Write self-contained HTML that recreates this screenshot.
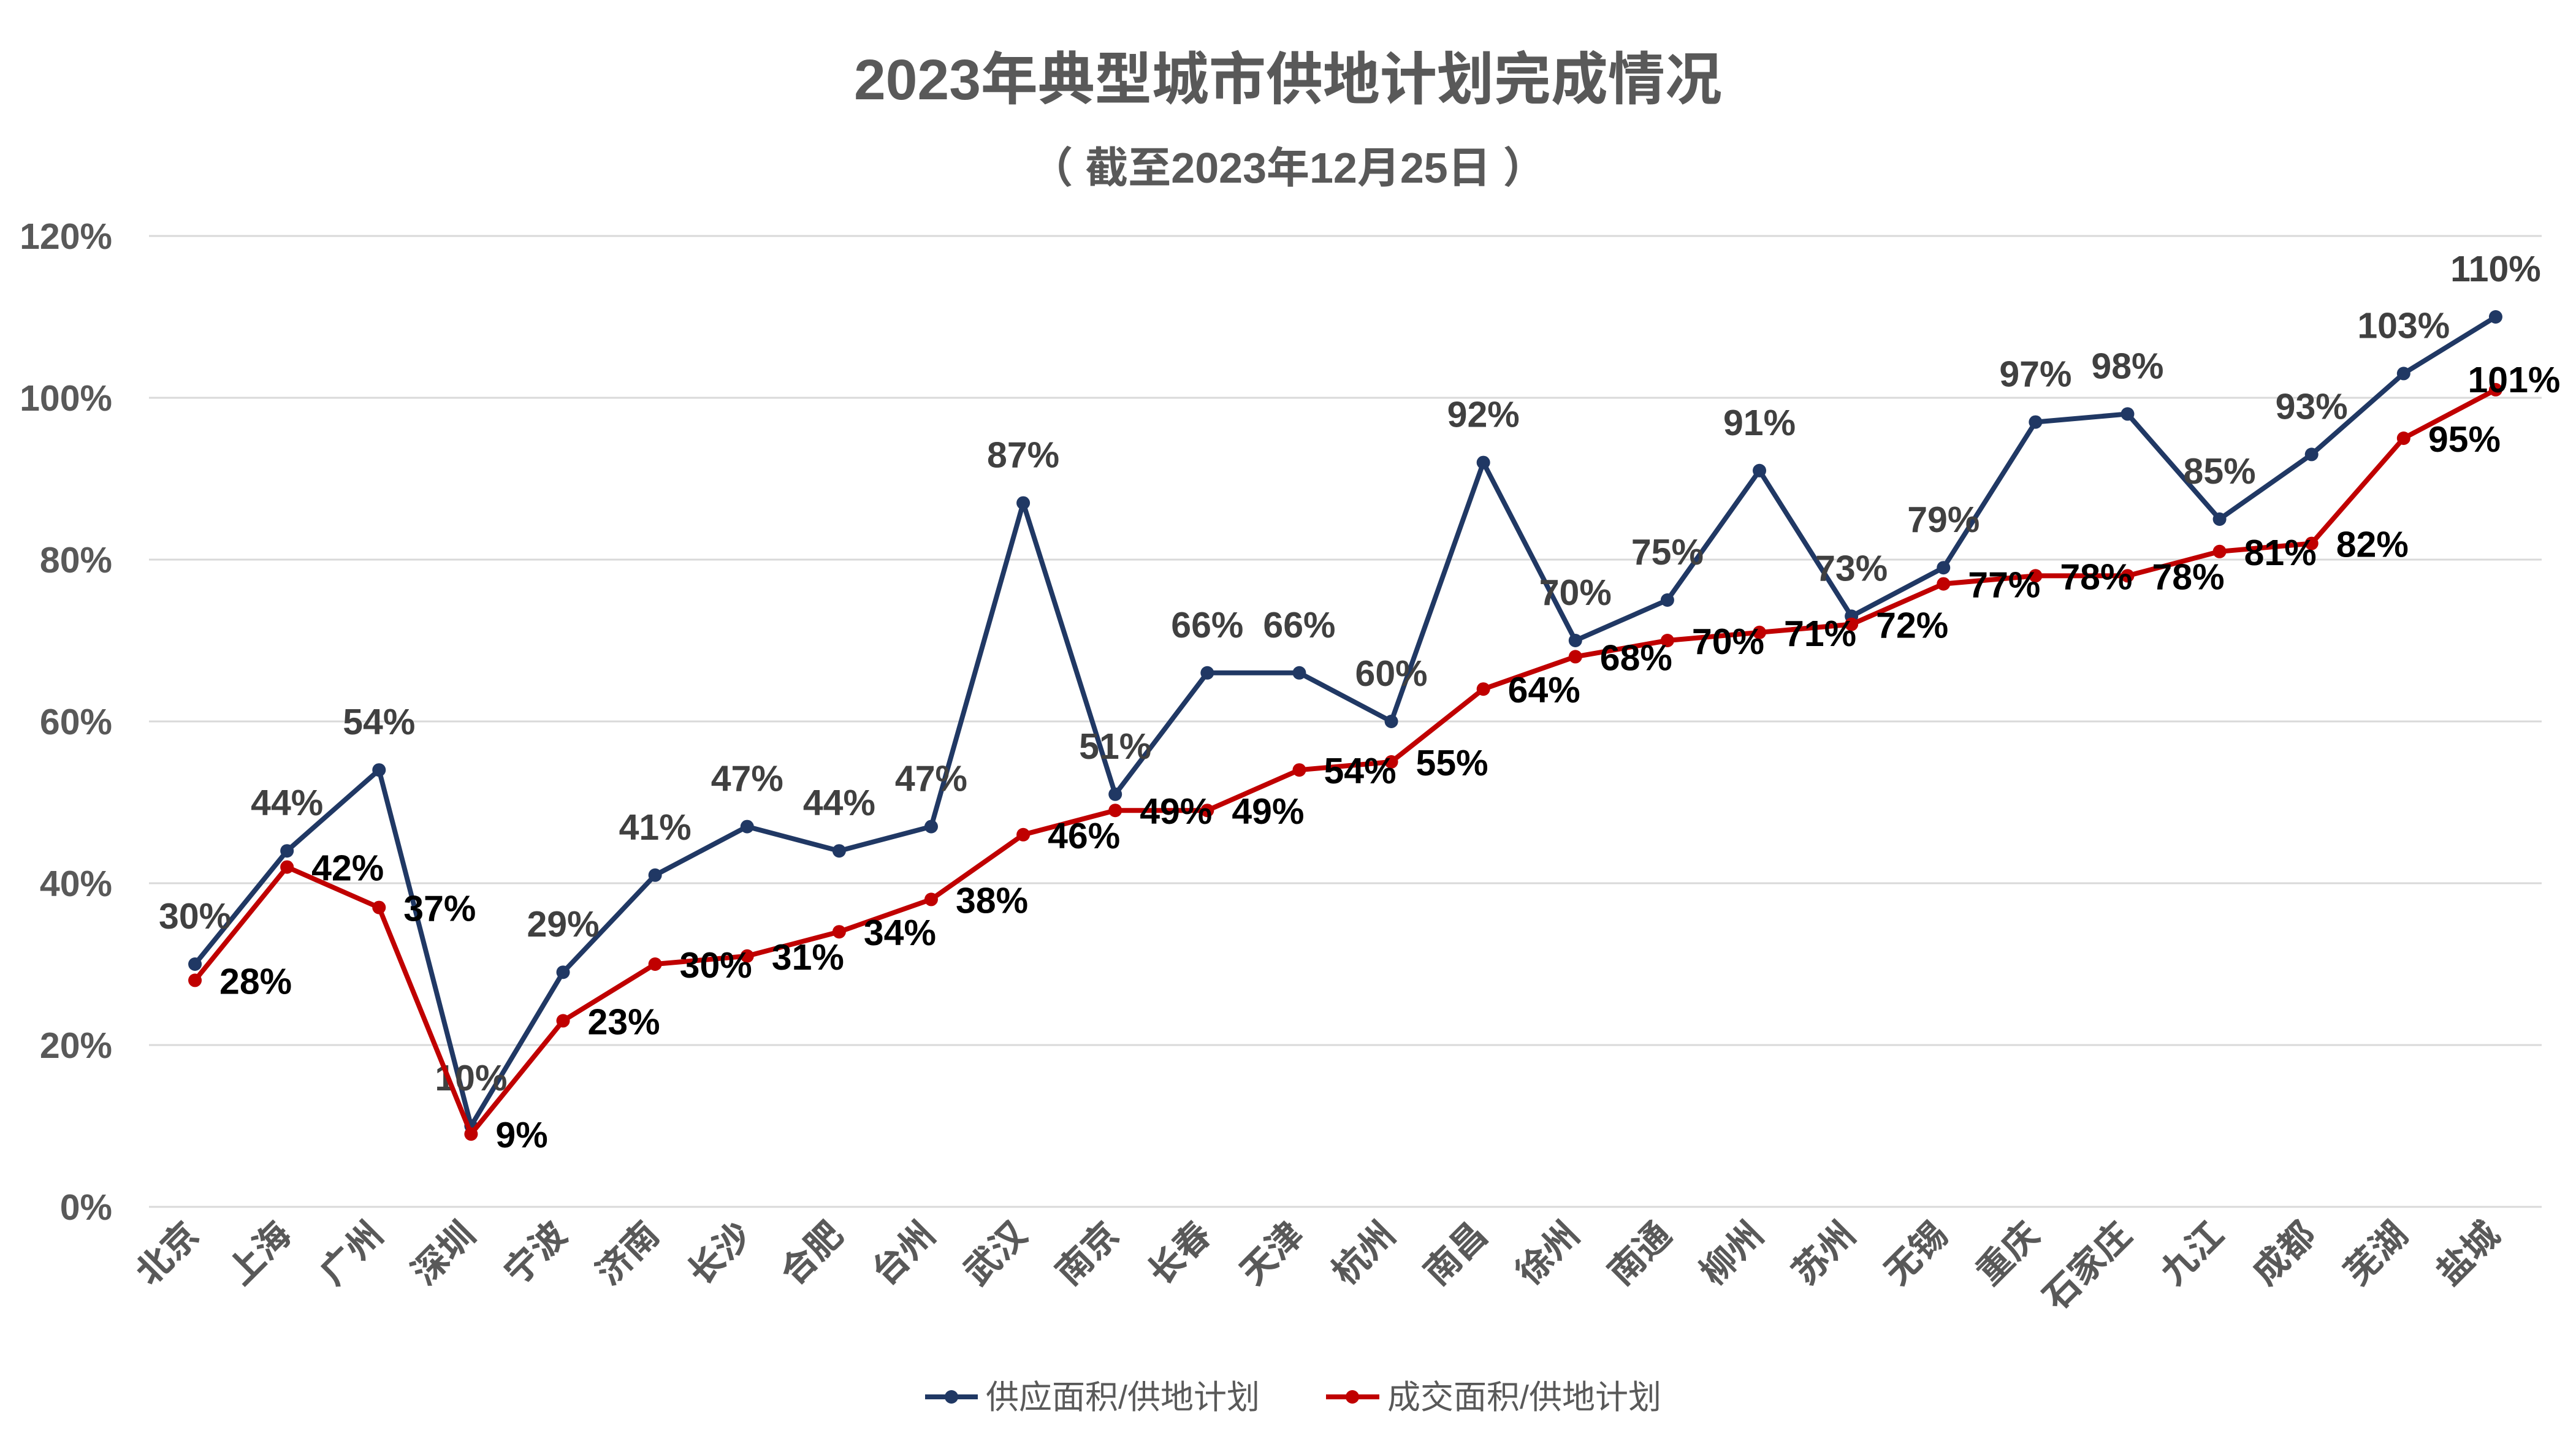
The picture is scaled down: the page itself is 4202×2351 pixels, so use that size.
<!DOCTYPE html>
<html><head><meta charset="utf-8"><style>
html,body{margin:0;padding:0;background:#fff;}
svg{display:block;font-family:"Liberation Sans","Noto Sans CJK SC",sans-serif;}
</style></head><body>
<svg id="chart" width="4202" height="2351" viewBox="0 0 4202 2351">
<text x="2101" y="162" text-anchor="middle" font-size="93" font-weight="bold" fill="#595959">2023年典型城市供地计划完成情况</text>
<text x="2101" y="298" text-anchor="middle" font-size="70" font-weight="bold" fill="#595959">（ 截至2023年12月25日 ）</text>
<g id="grid"></g>
<g id="yaxis"></g>
<g id="xaxis"></g>
<g id="series"></g>
<g id="legend">
  <g>
    <line x1="1509" y1="2279" x2="1595" y2="2279" stroke="#203864" stroke-width="8"/>
    <circle cx="1552" cy="2279" r="11" fill="#203864"/>
    <text x="1608" y="2298" font-size="54" fill="#595959">供应面积/供地计划</text>
  </g>
  <g>
    <line x1="2163" y1="2279" x2="2250" y2="2279" stroke="#C00000" stroke-width="8"/>
    <circle cx="2206" cy="2279" r="11" fill="#C00000"/>
    <text x="2263" y="2298" font-size="54" fill="#595959">成交面积/供地计划</text>
  </g>
</g>
</svg>
<script>
const categories = ["北京","上海","广州","深圳","宁波","济南","长沙","合肥","台州","武汉","南京","长春","天津","杭州","南昌","徐州","南通","柳州","苏州","无锡","重庆","石家庄","九江","成都","芜湖","盐城"];
const supplyValues = [30,44,54,10,29,41,47,44,47,87,51,66,66,60,92,70,75,91,73,79,97,98,85,93,103,110];
const dealValues = [28,42,37,9,23,30,31,34,38,46,49,49,54,55,64,68,70,71,72,77,78,78,81,82,95,101];
const yTicks = [0,20,40,60,80,100,120];

const NS = "http://www.w3.org/2000/svg";
const plotLeft = 243, plotRight = 4146, yTop = 385, yBottom = 1969, yMax = 120;
const band = (plotRight - plotLeft) / categories.length;
function xScale(i){ return plotLeft + band * (i + 0.5); }
function yScale(v){ return yBottom - (v / yMax) * (yBottom - yTop); }
function mk(tag, attrs, parent){ const e = document.createElementNS(NS, tag); for (const k in attrs) e.setAttribute(k, attrs[k]); parent.appendChild(e); return e; }

const grid = document.getElementById('grid');
const yaxis = document.getElementById('yaxis');
yTicks.forEach(t => {
  const l = mk('line', {x1: plotLeft, x2: plotRight, y1: yScale(t), y2: yScale(t), stroke: '#d9d9d9', 'stroke-width': 3}, grid);
  
  
  const tx = mk('text', {x: 183, y: yScale(t) + 21, 'text-anchor': 'end', 'font-size': 59, 'font-weight': 'bold', fill: '#595959'}, yaxis);
  tx.textContent = t + '%';
  
  
});

const xaxis = document.getElementById('xaxis');
categories.forEach((c, i) => {
  const x = xScale(i) + 10, y = 2018;
  const tx = mk('text', {x: x, y: y, 'text-anchor': 'end', 'font-size': 58, 'font-weight': 'bold', fill: '#595959', transform: 'rotate(-45 ' + x + ' ' + y + ')'}, xaxis);
  tx.textContent = c;
  
  
});

const series = document.getElementById('series');
function drawSeries(vals, color, name){
  const g = mk('g', {}, series);
  
  
  const pts = vals.map((v, i) => xScale(i) + ',' + yScale(v)).join(' ');
  const pl = mk('polyline', {points: pts, fill: 'none', stroke: color, 'stroke-width': 8, 'stroke-linejoin': 'round'}, g);
  
  
  vals.forEach((v, i) => {
    const c = mk('circle', {cx: xScale(i), cy: yScale(v), r: 11, fill: color}, g);
    
    
  });
  return g;
}
const gS = drawSeries(supplyValues, '#203864', 'supply-series');
const gD = drawSeries(dealValues, '#C00000', 'deal-series');

supplyValues.forEach((v, i) => {
  const t = mk('text', {x: xScale(i), y: yScale(v) - 58, 'text-anchor': 'middle', 'font-size': 59, 'font-weight': 'bold', fill: '#404040'}, gS);
  t.textContent = v + '%';
  
  
});
dealValues.forEach((v, i) => {
  let x = xScale(i) + 40, anchor = 'start', y = yScale(v) + 22;
  if (i === dealValues.length - 1) { x = xScale(i) + 30; anchor = 'middle'; y = yScale(v) + 4; }
  const t = mk('text', {x: x, y: y, 'text-anchor': anchor, 'font-size': 59, 'font-weight': 'bold', fill: '#000'}, gD);
  t.textContent = v + '%';
  
  
});
</script>
</body></html>
